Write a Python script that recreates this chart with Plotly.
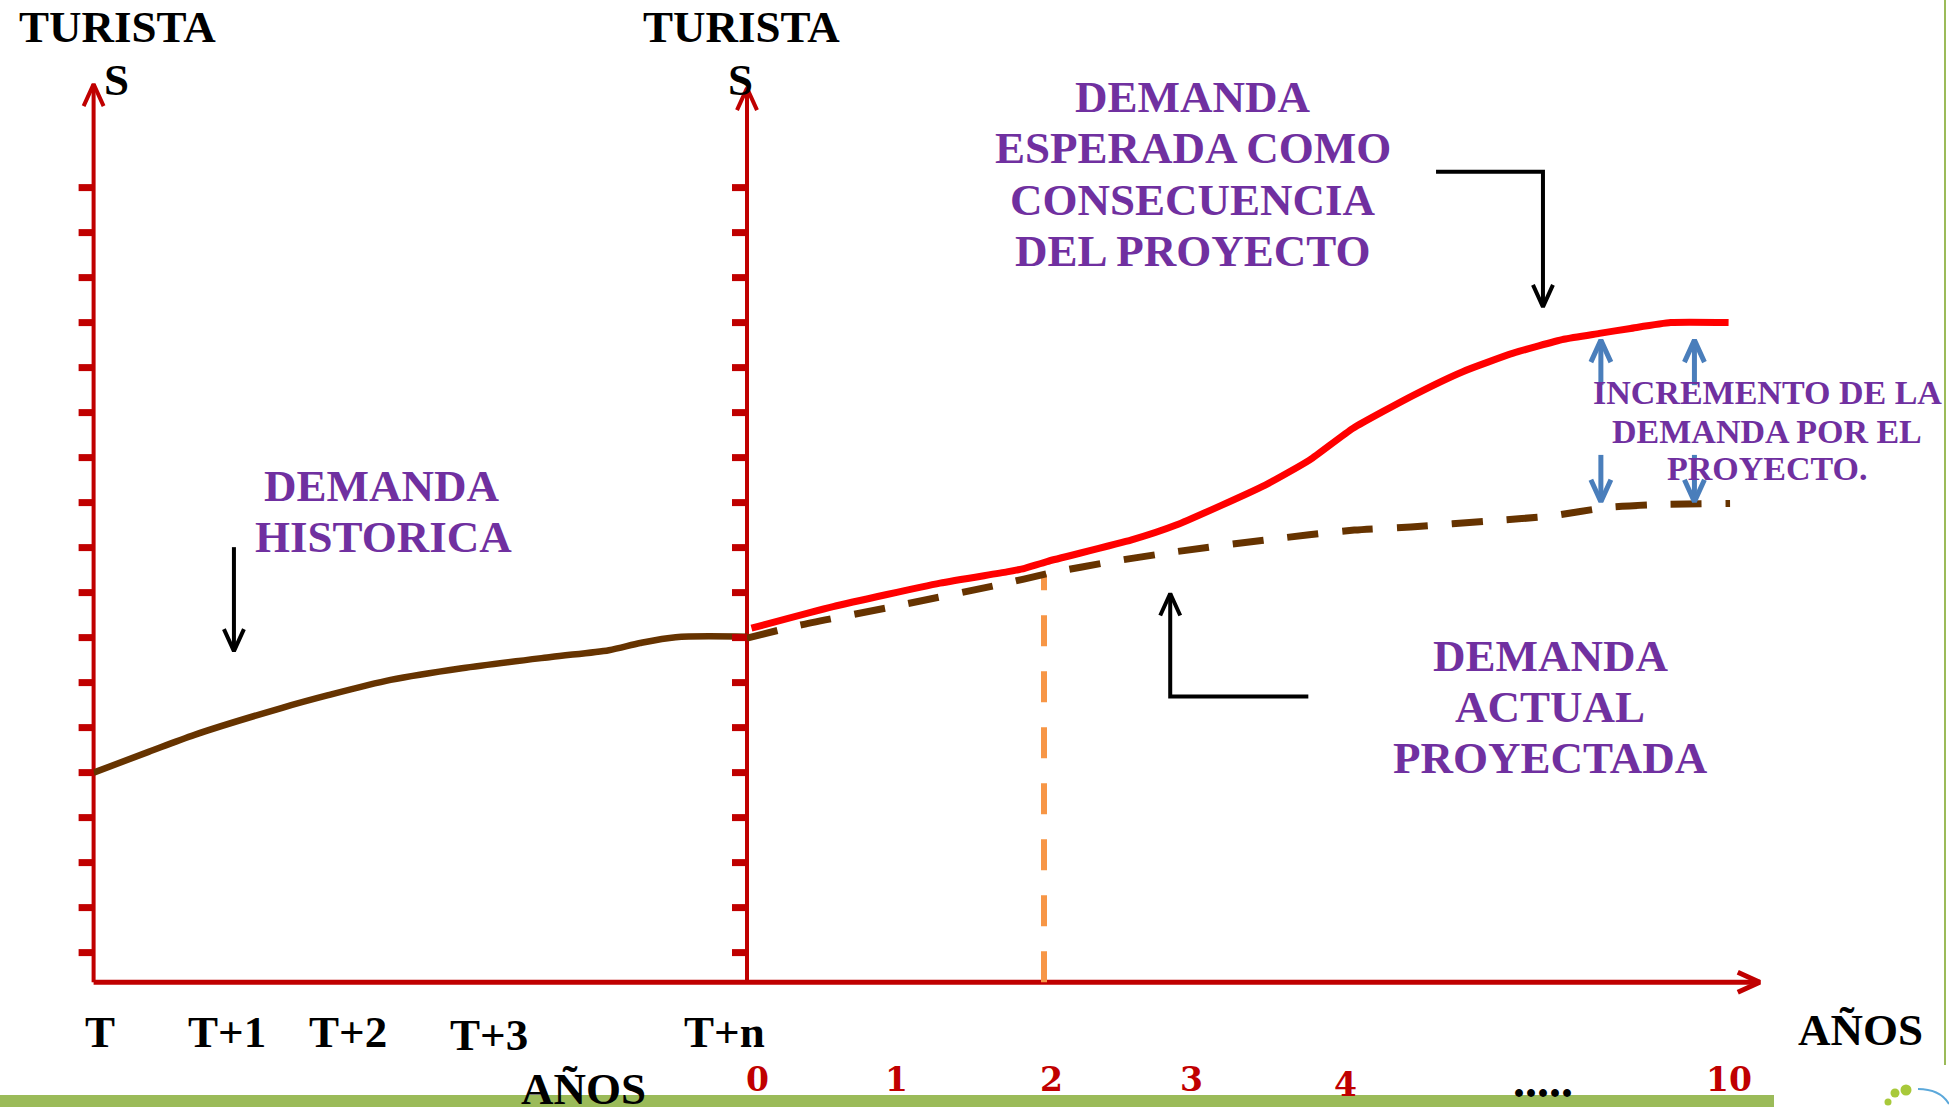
import numpy as np
import plotly.graph_objects as go

# ---------------- data (schematic units: x = years, y = tourists) ----------------
hist_x = [-4.40, -4.03, -3.72, -3.13, -2.82, -2.40, -1.92, -1.32, -0.93, -0.72, -0.48, 0.00]
hist_y = [4.66, 5.12, 5.50, 6.10, 6.38, 6.72, 6.98, 7.23, 7.38, 7.54, 7.67, 7.68]

exp_x = [0.03, 0.58, 1.30, 1.75, 1.87, 2.02, 2.59, 2.89, 3.49, 3.79, 4.08, 4.49, 4.82, 5.16, 5.50, 5.74, 5.95, 6.22, 6.61]
exp_y = [7.87, 8.35, 8.87, 9.12, 9.20, 9.35, 9.83, 10.16, 11.05, 11.61, 12.31, 13.05, 13.57, 13.98, 14.29, 14.42, 14.53, 14.66, 14.66]

act_x = [0.00, 0.36, 0.94, 1.69, 2.05, 2.44, 2.89, 3.49, 4.09, 4.47, 5.03, 5.41, 5.79, 6.17, 6.62]
act_y = [7.65, 7.94, 8.32, 8.83, 9.10, 9.34, 9.57, 9.83, 10.05, 10.12, 10.26, 10.36, 10.55, 10.62, 10.64]

hist_tick_labels = ["T", "T+1", "T+2", "T+3", "T+n"]
hist_tick_pos = [-4.36, -3.50, -2.69, -1.74, -0.15]
year_tick_labels = ["0", "1", "2", "3", "4", ".....", "10"]
year_tick_pos = [0.07, 1.01, 2.05, 2.99, 4.03, 5.36, 6.61]
marker_year = 2
increment_years = [5.75, 6.38]
y_ticks = [0.66 + k for k in range(18)]

# ---------------- geometry / style ----------------
PX_X = 148.5   # pixels per x unit
PX_Y = 45.0    # pixels per y unit
X_RANGE = [-747 / PX_X, (1949 - 747) / PX_X]
Y_RANGE = [(982.3 - 1107) / PX_Y, 982.3 / PX_Y]
LEFT_AX = -4.40
RIGHT_AX = 0.0
X_END = 6.82
AX_RED = "#C00000"
PURPLE = "#7030A0"
BROWN = "#663300"
BLUE = "#4A7EBB"
GREEN = "#9BBB59"
FONT = "Liberation Serif"

fig = go.Figure()


def chevron(tx, ty, dx, dy, back=22, half=10):
    bx = tx - dx * back / PX_X
    by = ty - dy * back / PX_Y
    xs = [bx - dy * half / PX_X, tx, bx + dy * half / PX_X]
    ys = [by + dx * half / PX_Y, ty, by - dx * half / PX_Y]
    return xs, ys


def arrow(xs, ys, color, width):
    fig.add_trace(go.Scatter(x=xs, y=ys, mode="lines", line=dict(color=color, width=width),
                             hoverinfo="skip"))
    dx = np.sign(xs[-1] - xs[-2])
    dy = np.sign(ys[-1] - ys[-2])
    cx, cy = chevron(xs[-1], ys[-1], dx, dy)
    fig.add_trace(go.Scatter(x=cx, y=cy, mode="lines", line=dict(color=color, width=width),
                             hoverinfo="skip"))


# ---- axes ----
arrow([LEFT_AX, LEFT_AX], [0, 19.96], AX_RED, 4)
arrow([RIGHT_AX, RIGHT_AX], [0, 19.87], AX_RED, 4)
arrow([LEFT_AX, X_END], [0, 0], AX_RED, 5)
for ax_x in (LEFT_AX, RIGHT_AX):
    for t in y_ticks:
        fig.add_shape(type="line", xref="x", yref="y", x0=ax_x - 15 / PX_X, x1=ax_x,
                      y0=t, y1=t, line=dict(color=AX_RED, width=7))

# ---- orange marker line at year 2 ----
top = float(np.interp(marker_year, act_x, act_y))
fig.add_trace(go.Scatter(x=[marker_year, marker_year], y=[0, top], mode="lines",
                         line=dict(color="#F79646", width=6, dash="31px,25px"), hoverinfo="skip"))

# ---- series ----
fig.add_trace(go.Scatter(x=hist_x, y=hist_y, mode="lines",
                         line=dict(color=BROWN, width=6.5, shape="spline", smoothing=0.8),
                         hoverinfo="skip"))
fig.add_trace(go.Scatter(x=act_x, y=act_y, mode="lines",
                         line=dict(color=BROWN, width=7, dash="31px,24px", shape="spline", smoothing=0.6),
                         hoverinfo="skip"))
fig.add_trace(go.Scatter(x=exp_x, y=exp_y, mode="lines",
                         line=dict(color="#FF0000", width=7, shape="spline", smoothing=0.5),
                         hoverinfo="skip"))

# ---- pointer arrows ----
arrow([4.64, 5.36, 5.36], [18.01, 18.01, 15.01], "black", 4)
arrow([3.78, 2.85, 2.85], [6.35, 6.35, 8.64], "black", 4)
arrow([-3.455, -3.455], [9.67, 7.36], "black", 4)
for ix in increment_years:
    arrow([ix, ix], [13.27, 14.27], BLUE, 5)
    arrow([ix, ix], [11.72, 10.68], BLUE, 5)


# ---- text ----
def label(text, x, y, size, color, family=FONT):
    fig.add_annotation(x=x, y=y, xref="x", yref="y", text=text, showarrow=False,
                       xanchor="center", yanchor="middle",
                       font=dict(family=family, size=size, color=color, weight="bold"))


for cx in (-4.24, -0.04):
    label("TURISTA", cx, 21.23, 45, "black")
    label("S", cx - 0.005, 20.05, 45, "black")

label("DEMANDA", -2.46, 11.03, 45, PURPLE)
label("HISTORICA", -2.45, 9.90, 45, PURPLE)

for txt, yy in zip(["DEMANDA", "ESPERADA COMO", "CONSECUENCIA", "DEL PROYECTO"],
                   [19.67, 18.54, 17.38, 16.25]):
    label(txt, 3.0, yy, 45, PURPLE)

for txt, yy in zip(["DEMANDA", "ACTUAL", "PROYECTADA"], [7.25, 6.12, 4.98]):
    label(txt, 5.41, yy, 45, PURPLE)

for txt, yy in zip(["INCREMENTO DE LA", "DEMANDA POR EL", "PROYECTO."], [13.11, 12.25, 11.41]):
    label(txt, 6.87, yy, 34, PURPLE)

for txt, xx in zip(hist_tick_labels, hist_tick_pos):
    label(txt, xx, -1.10 if txt != "T+3" else -1.17, 45, "black")
label("AÑOS", 7.50, -1.06, 45, "black")
label("AÑOS", -1.10, -2.38, 45, "black")

for txt, xx in zip(year_tick_labels, year_tick_pos):
    if txt == ".....":
        label(txt, xx, -2.19, 48, "black")
    else:
        label(txt, xx, -2.15 if txt != "4" else -2.28, 33, AX_RED, family="DejaVu Serif")

# ---- slide decorations ----
fig.add_shape(type="rect", xref="paper", yref="paper", x0=0, x1=1774 / 1949, y0=0, y1=12 / 1107,
              fillcolor=GREEN, line=dict(width=0), layer="below")
fig.add_shape(type="line", xref="paper", yref="paper", x0=1945 / 1949, x1=1945 / 1949,
              y0=42 / 1107, y1=1, line=dict(color=GREEN, width=2))
for (px, py, r) in [(1888, 1102, 3.5), (1895, 1093, 4.5), (1906, 1090, 5.5)]:
    fig.add_shape(type="circle", xref="paper", yref="paper",
                  x0=(px - r) / 1949, x1=(px + r) / 1949,
                  y0=(1107 - py - r) / 1107, y1=(1107 - py + r) / 1107,
                  fillcolor="#A8C93A", line=dict(width=0))
fig.add_shape(type="path", xref="paper", yref="paper",
              path=f"M {1918/1949},{(1107-1089)/1107} Q {1940/1949},{(1107-1089)/1107} {1949/1949},{(1107-1104)/1107}",
              line=dict(color="#5BA8DA", width=2))

fig.update_layout(
    width=1949, height=1107, autosize=False,
    margin=dict(l=0, r=0, t=0, b=0, pad=0),
    paper_bgcolor="white", plot_bgcolor="white",
    showlegend=False,
    xaxis=dict(range=X_RANGE, visible=False, fixedrange=True),
    yaxis=dict(range=Y_RANGE, visible=False, fixedrange=True),
)

fig.write_html("out.html", config={"displayModeBar": False})
